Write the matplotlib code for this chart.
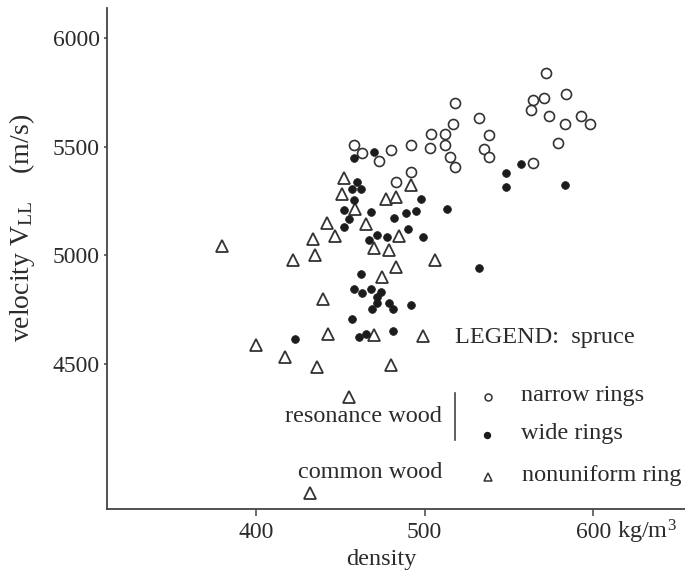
import matplotlib
matplotlib.use("Agg")
import matplotlib.pyplot as plt

plt.rcParams['font.family'] = ['Liberation Serif', 'DejaVu Serif']
plt.rcParams['mathtext.fontset'] = 'custom'
plt.rcParams['mathtext.rm'] = 'Liberation Serif'
plt.rcParams['mathtext.it'] = 'Liberation Serif:italic'

# Spruce samples: density (kg/m3) and longitudinal sound velocity V_LL (m/s)
narrow_density = [458, 463, 473, 480, 492, 483, 492, 503, 504, 512,
                  512, 515, 518, 517, 518, 532, 538, 535, 538, 564,
                  579, 572, 584, 564, 571, 563, 574, 583, 593, 598]
narrow_velocity = [5506, 5471, 5435, 5485, 5508, 5336, 5383, 5492, 5558, 5559,
                   5506, 5454, 5409, 5606, 5701, 5631, 5553, 5488, 5453, 5427,
                   5516, 5838, 5744, 5715, 5726, 5669, 5643, 5606, 5642, 5606]

wide_density = [458, 470, 460, 457, 462, 458, 452, 468, 455, 452,
                498, 513, 489, 495, 482, 490, 499, 472, 467, 478,
                557, 548, 548, 583, 532, 462, 458, 463, 468, 474,
                472, 472, 479, 481, 469, 492, 457, 461, 465, 481, 423]
wide_velocity = [5450, 5477, 5336, 5304, 5305, 5254, 5209, 5198, 5169, 5131,
                 5259, 5213, 5195, 5203, 5171, 5122, 5084, 5096, 5071, 5086,
                 5421, 5381, 5317, 5323, 4941, 4914, 4844, 4829, 4844, 4833,
                 4810, 4781, 4783, 4754, 4754, 4772, 4707, 4623, 4638, 4653, 4617]

nonuniform_density = [452, 451, 477, 483, 492, 459, 465, 442, 447, 434,
                      380, 485, 470, 479, 422, 435, 506, 483, 475, 440,
                      443, 400, 417, 436, 470, 499, 480, 455, 432]
nonuniform_velocity = [5356, 5283, 5258, 5270, 5324, 5213, 5143, 5149, 5088, 5075,
                       5045, 5090, 5036, 5027, 4977, 5004, 4979, 4945, 4902, 4798,
                       4641, 4587, 4533, 4485, 4632, 4630, 4494, 4348, 3909]

x_ticks = [400, 500, 600]
y_ticks = [4500, 5000, 5500, 6000]

W, H = 685, 574
INK = '#2b2b2b'
AXC = '#444444'
FS = 17        # tick labels
FT = 17.5      # annotation text

fig = plt.figure(figsize=(W / 100, H / 100), dpi=100)
ax = fig.add_axes([107.2 / W, 1 - 508.8 / H, 1 - 107.2 / W, (508.8 - 8) / H])
ax.set_xlim(311.8, 654.4)
ax.set_ylim(3835, 6138)

for side in ('top', 'right'):
    ax.spines[side].set_visible(False)
for side in ('left', 'bottom'):
    ax.spines[side].set_color(AXC)
    ax.spines[side].set_linewidth(1.3)

ax.set_xticks(x_ticks)
ax.set_yticks(y_ticks)
ax.tick_params(axis='x', length=5, width=1.1, color=AXC, pad=4.5,
               labelsize=FS, labelcolor=INK)
ax.tick_params(axis='y', length=2.5, width=1.1, color=AXC, pad=3,
               labelsize=FS, labelcolor=INK)

ax.plot(nonuniform_density, nonuniform_velocity, linestyle='none', marker='^',
        ms=8.5, mfc='white', mec='#333333', mew=1.3, clip_on=False, zorder=3)
ax.plot(narrow_density, narrow_velocity, linestyle='none', marker='o',
        ms=7.2, mfc='white', mec='#333333', mew=1.2, zorder=3)
ax.plot(wide_density, wide_velocity, linestyle='none', marker='o',
        ms=5.6, mfc='#1c1c1c', mec='#1c1c1c', mew=0.5, zorder=4)


def px(x, y):
    return x / W, 1 - y / H


# axis titles
fig.text(*px(22, 228), 'velocity V$_{\\rm LL}$    (m/s)', rotation=90,
         ha='center', va='center', fontsize=20, color=INK)
fig.text(*px(381, 560), 'density', ha='center', va='center', fontsize=FT, color=INK)
fig.text(*px(617, 532), 'kg/m$^{3}$', ha='left', va='center', fontsize=FT, color=INK)

# legend block
fig.text(*px(455, 337), 'LEGEND:  spruce', ha='left', va='center', fontsize=FT, color=INK)
fig.text(*px(521, 395), 'narrow rings', ha='left', va='center', fontsize=FT, color=INK)
fig.text(*px(521, 434), 'wide rings', ha='left', va='center', fontsize=FT, color=INK)
fig.text(*px(522, 475), 'nonuniform ring', ha='left', va='center', fontsize=FT, color=INK)
fig.text(*px(442, 416), 'resonance wood', ha='right', va='center', fontsize=FT, color=INK)
fig.text(*px(442, 472), 'common wood', ha='right', va='center', fontsize=FT, color=INK)

fig.add_artist(plt.Line2D([454.5 / W, 454.5 / W], [1 - 393 / H, 1 - 440 / H],
                          color=AXC, lw=1.2))
fig.add_artist(plt.Line2D([488.3 / W], [1 - 396.5 / H], marker='o', ms=5,
                          mfc='white', mec='#333333', mew=1.1, linestyle='none'))
fig.add_artist(plt.Line2D([487 / W], [1 - 435 / H], marker='o', ms=4.3,
                          mfc='#1c1c1c', mec='#1c1c1c', linestyle='none'))
fig.add_artist(plt.Line2D([488.3 / W], [1 - 476.5 / H], marker='^', ms=6,
                          mfc='white', mec='#333333', mew=1.1, linestyle='none'))

fig.savefig('out.png', dpi=100)
